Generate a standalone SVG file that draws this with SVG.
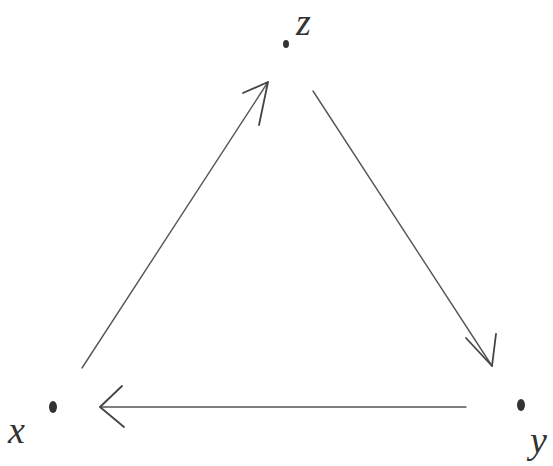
<svg xmlns="http://www.w3.org/2000/svg" width="553" height="466" viewBox="0 0 553 466">
<defs>
<style>
.edge{stroke:#555;stroke-width:1.4;fill:none;stroke-linecap:round}
.head{stroke:#444;stroke-width:1.8;fill:none;stroke-linecap:round;stroke-linejoin:round}
.dot{fill:#333}
.lbl{font-family:"Liberation Serif",serif;font-style:italic;font-size:38px;fill:#333}
</style>
</defs>
<rect width="553" height="466" fill="#fff"/>
<g id="connectors">
<g id="edge-x-z">
<line class="edge" x1="82" y1="368" x2="268" y2="82"/>
<polyline class="head" points="243,93 268,82 259,125"/>
</g>
<g id="edge-z-y">
<line class="edge" x1="313" y1="91" x2="492" y2="366"/>
<polyline class="head" points="466,338 492,366 496,334"/>
</g>
<g id="edge-y-x">
<line class="edge" x1="466" y1="407" x2="100" y2="407"/>
<polyline class="head" points="122,386 100,407 124,427"/>
</g>
</g>
<g id="node-z">
<ellipse class="dot" cx="286" cy="44" rx="3" ry="4"/>
<text class="lbl" x="296" y="35">z</text>
</g>
<g id="node-x">
<ellipse class="dot" cx="53" cy="407" rx="4" ry="6"/>
<text class="lbl" x="8" y="443">x</text>
</g>
<g id="node-y">
<ellipse class="dot" cx="521" cy="405" rx="4" ry="6"/>
<text class="lbl" x="530" y="453">y</text>
</g>
</svg>
